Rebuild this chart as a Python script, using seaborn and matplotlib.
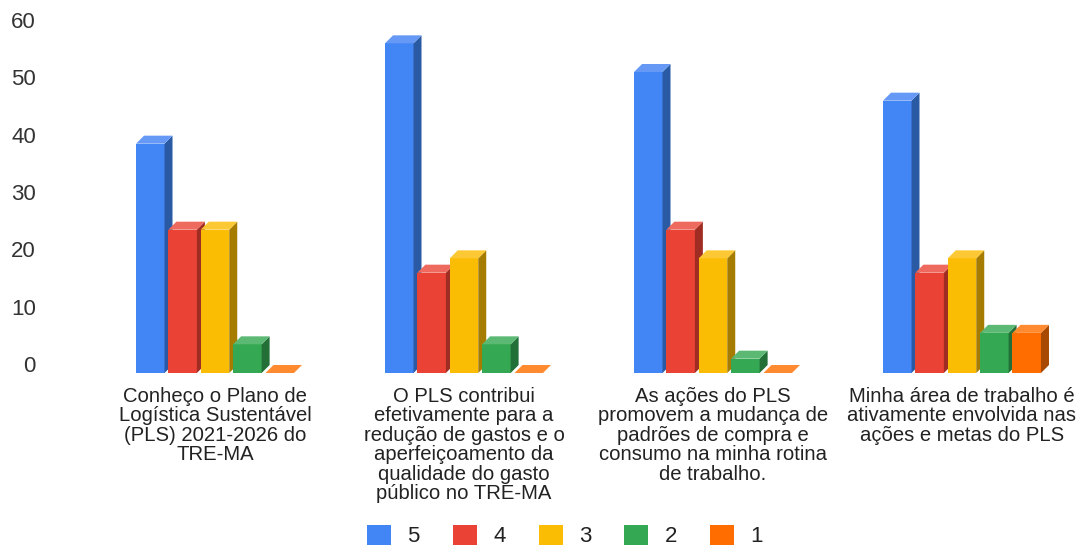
import numpy as np
import pandas as pd
import matplotlib.pyplot as plt
import matplotlib.transforms as mtrans
from matplotlib.patches import Polygon, Patch
import seaborn as sns

categories = [
    'Conheço o Plano de\nLogística Sustentável\n(PLS) 2021-2026 do\nTRE-MA',
    'O PLS contribui\nefetivamente para a\nredução de gastos e o\naperfeiçoamento da\nqualidade do gasto\npúblico no TRE-MA',
    'As ações do PLS\npromovem a mudança de\npadrões de compra e\nconsumo na minha rotina\nde trabalho.',
    'Minha área de trabalho é\nativamente envolvida nas\nações e metas do PLS',
]
scores = ['5', '4', '3', '2', '1']
v5 = [40, 57.5, 52.5, 47.5]
v4 = [25, 17.5, 25, 17.5]
v3 = [25, 20, 20, 20]
v2 = [5, 5, 2.5, 7]
v1 = [0, 0, 0, 7]
yticks = [0, 10, 20, 30, 40, 50, 60]

front = ['#4285F4', '#EA4335', '#FBBC04', '#34A853', '#FF6D01']
top = ['#6699F6', '#EE6A5E', '#FCC934', '#5BB974', '#FF8A30']
side = ['#2B5AA5', '#A02D23', '#A67C00', '#236F38', '#A84A02']

rows = []
for s, vals in zip(scores, [v5, v4, v3, v2, v1]):
    for c, v in zip(categories, vals):
        rows.append({'cat': c, 'score': s, 'val': v})
df = pd.DataFrame(rows)

sns.set_style('white')
plt.rcParams['font.family'] = ['Liberation Sans', 'DejaVu Sans']

W, H = 1081, 547
fig = plt.figure(figsize=(W / 100, H / 100), dpi=100)
# pixel layout of the plot area
left, right, base, ytop = 40, 1081, 373, 29
ax = fig.add_axes([left / W, (H - base) / H, (right - left) / W, (base - ytop) / H])

sns.barplot(data=df, x='cat', y='val', hue='score', hue_order=scores, palette=front,
            saturation=1, width=0.65, gap=0.12, legend=False, ax=ax)

group_px = 249
ax.set_xlim((left - 215) / group_px, (right - 215) / group_px)
ax.set_ylim(0, 60)
sns.despine(ax=ax, left=True, bottom=True)
ax.set_xlabel('')
ax.set_ylabel('')
ax.grid(False)

# fake 3D: side and top faces from each bar
dx = 8 / group_px
dy = 8 / ((base - ytop) / 60)
for i, cont in enumerate(ax.containers):
    for bar in cont:
        x0, w, h = bar.get_x(), bar.get_width(), bar.get_height()
        x1 = x0 + w
        bar.set_zorder(3 + i)
        bar.set_edgecolor('none')
        ax.add_patch(Polygon([(x1, 0), (x1 + dx, dy), (x1 + dx, h + dy), (x1, h)],
                             fc=side[i], ec='none', zorder=3 + i, clip_on=False))
        ax.add_patch(Polygon([(x0, h), (x1, h), (x1 + dx, h + dy), (x0 + dx, h + dy)],
                             fc=top[i], ec='none', zorder=3 + i, clip_on=False))

ax.set_yticks(yticks)
ax.set_yticklabels([str(t) for t in yticks], fontsize=16, color='#333333')
ax.set_xticks(range(len(categories)))
ax.set_xticklabels(categories, fontsize=14.6, color='#222222', linespacing=1.03)
ax.tick_params(axis='y', length=0, pad=3)
ax.tick_params(axis='x', length=0, pad=10)

# axis labels sit on the back wall, just above the front baseline
shift = mtrans.ScaledTranslation(0, 9 / 100, fig.dpi_scale_trans)
for lab in ax.get_yticklabels():
    lab.set_transform(lab.get_transform() + shift)

handles = [Patch(fc=c, ec='none') for c in front]
fig.legend(handles, scores, loc='center', bbox_to_anchor=(565 / W, (H - 536) / H), ncol=5,
           frameon=False, fontsize=16, handlelength=1.08, handleheight=1.0,
           handletextpad=0.72, columnspacing=1.5, labelcolor='#222222',
           borderpad=0, borderaxespad=0)

fig.savefig('out.png', dpi=100)
